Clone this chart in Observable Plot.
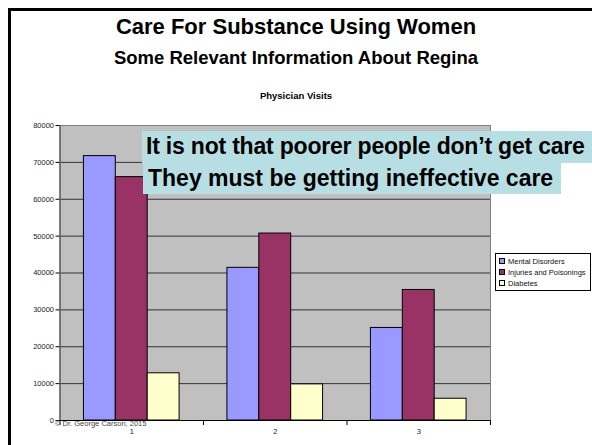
<!DOCTYPE html>
<html>
<head>
<meta charset="utf-8">
<script src="https://cdn.jsdelivr.net/npm/d3@7"></script>
<script src="https://cdn.jsdelivr.net/npm/@observablehq/plot@0.6"></script>
<style>
  body { margin: 0; background: #fff; }
  #page { position: relative; width: 592px; height: 445px; overflow: hidden; background: #fff;
          font-family: "Liberation Sans", Arial, Helvetica, sans-serif; color: #000; }
  .slide-border { position: absolute; left: 8px; top: 8px; width: 700px; height: 600px;
                  border: 3px solid #000; box-sizing: border-box; }
  .center { position: absolute; left: 0; width: 592px; text-align: center; font-weight: bold; line-height: 1; white-space: nowrap; }
  #title { top: 16.4px; font-size: 22px; }
  #subtitle { top: 49.3px; font-size: 18.5px; }
  #chart-title { top: 91px; font-size: 9.5px; }
  #chart { position: absolute; left: 0; top: 100px; }
  .callout { position: absolute; background: #b7dfe3; font-weight: bold; font-size: 23px;
             white-space: nowrap; padding-left: 5px; box-sizing: border-box; }
  #line1 { left: 142px; top: 131px; width: 460px; height: 32px; line-height: 30px; letter-spacing: -0.2px; padding-left: 4px; }
  #line2 { left: 143px; top: 163px; width: 418px; height: 31px; line-height: 31px; }
  #legend { position: absolute; left: 495px; top: 253px; width: 96px; height: 38px; background: #fff;
            border: 1px solid #000; box-sizing: border-box; padding: 1.5px 0 0 3px; }
  .item { display: flex; align-items: center; height: 11px; font-size: 7.5px; color: #111; white-space: nowrap; }
  .swatch { width: 4px; height: 4px; border: 1px solid #000; margin-right: 3px; flex: none; }
  #credit { position: absolute; left: 55px; top: 420.2px; font-size: 7.5px; line-height: 1; color: #444; white-space: nowrap; }
</style>
</head>
<body>
<div id="page">
  <div class="slide-border"></div>
  <div class="center" id="title">Care For Substance Using Women</div>
  <div class="center" id="subtitle">Some Relevant Information About Regina</div>
  <div class="center" id="chart-title">Physician Visits</div>
  <div id="chart"></div>
  <div class="callout" id="line1">It is not that poorer people don’t get care</div>
  <div class="callout" id="line2">They must be getting ineffective care</div>
  <div id="legend"></div>
  <div id="credit">© Dr. George Carson, 2015</div>
</div>
<script>
// Physician visits by group, one array per diagnosis
const groups = [1, 2, 3];
const seriesNames = ["Mental Disorders", "Injuries and Poisonings", "Diabetes"];
const mentalDisorders = [71700, 41400, 25100];
const injuriesAndPoisonings = [66000, 50700, 35400];
const diabetes = [12800, 9800, 5900];
const seriesColors = ["#9999ff", "#993366", "#ffffcc"];
const yTicks = [0, 10000, 20000, 30000, 40000, 50000, 60000, 70000, 80000];

const seriesValues = [mentalDisorders, injuriesAndPoisonings, diabetes];

// Each group occupies one unit on x; the three bars fill the middle two thirds
const barWidth = 2 / 9;
const groupPad = (1 - seriesNames.length * barWidth) / 2;

const rows = [];
groups.forEach((g, gi) => {
  seriesNames.forEach((name, si) => {
    const x1 = g - 0.5 + groupPad + si * barWidth;
    rows.push({group: g, series: name, value: seriesValues[si][gi], x1, x2: x1 + barWidth});
  });
});

const boundaries = [0.5, ...groups.map(g => g + 0.5)];

const chart = Plot.plot({
  width: 592,
  height: 345,
  marginLeft: 59.5,
  marginRight: 102,
  marginTop: 25,
  marginBottom: 25,
  style: {fontFamily: "'Liberation Sans', Arial, sans-serif", fontSize: "7.5px", color: "#222", background: "transparent"},
  x: {type: "linear", domain: [0.5, groups.length + 0.5]},
  y: {domain: [0, 80000]},
  color: {domain: seriesNames, range: seriesColors},
  marks: [
    Plot.frame({fill: "#c0c0c0"}),
    Plot.ruleY(yTicks.slice(1, -1), {stroke: "#333", strokeWidth: 1}),
    Plot.rectY(rows, {x1: "x1", x2: "x2", y: "value", fill: "series", stroke: "#000", strokeWidth: 1}),
    Plot.frame({stroke: "#808080", strokeWidth: 1}),
    Plot.ruleX([0.5], {stroke: "#666", strokeWidth: 1.5}),
    Plot.ruleY([0], {stroke: "#000", strokeWidth: 1}),
    Plot.axisY({ticks: yTicks, tickSize: 4, tickPadding: 2, tickFormat: d => String(d), label: null, stroke: "#000"}),
    Plot.axisX({ticks: boundaries, tickSize: 5, tickFormat: () => "", label: null, stroke: "#000"}),
    Plot.axisX({ticks: groups, tickSize: 0, tickPadding: 8, tickFormat: d => String(d), label: null})
  ]
});
document.getElementById("chart").appendChild(chart);

// Legend built from the same series names and colours
const legend = document.getElementById("legend");
seriesNames.forEach((name, i) => {
  const item = document.createElement("div");
  item.className = "item";
  const sw = document.createElement("span");
  sw.className = "swatch";
  sw.style.background = seriesColors[i];
  item.appendChild(sw);
  item.appendChild(document.createTextNode(name));
  legend.appendChild(item);
});
</script>
</body>
</html>
